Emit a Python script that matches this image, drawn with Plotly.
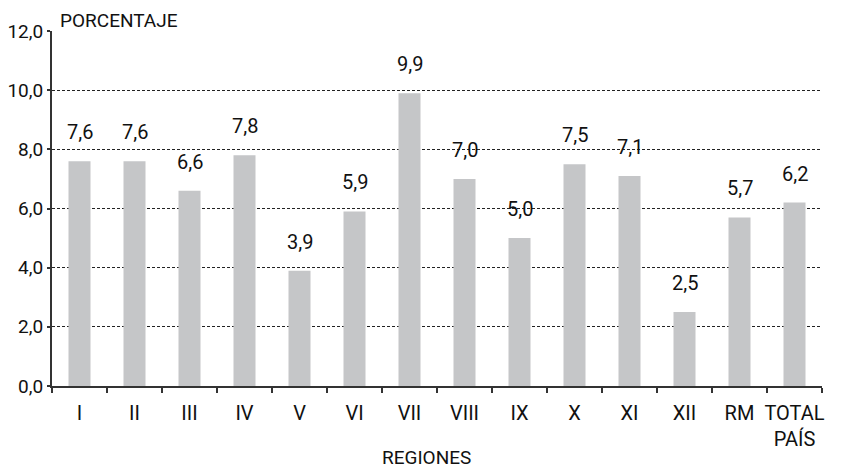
import plotly.graph_objects as go

categories = ["I", "II", "III", "IV", "V", "VI", "VII", "VIII", "IX", "X", "XI", "XII", "RM", "TOTAL<br>PAÍS"]
values = [7.6, 7.6, 6.6, 7.8, 3.9, 5.9, 9.9, 7.0, 5.0, 7.5, 7.1, 2.5, 5.7, 6.2]
y_ticks = [0, 2, 4, 6, 8, 10, 12]
y_ticklabels = ["0,0", "2,0", "4,0", "6,0", "8,0", "10,0", "12,0"]
y_title = "PORCENTAJE"
x_title = "REGIONES"

FONT = "Roboto, sans-serif"

fig = go.Figure()
fig.add_trace(go.Bar(
    x=categories, y=values,
    marker=dict(color="#c5c6c8", line=dict(width=0)),
    width=0.4,
    hoverinfo="skip",
))

for c, v in zip(categories, values):
    fig.add_annotation(
        x=c, y=v, xref="x", yref="y",
        text=f"{v:.1f}".replace(".", ","),
        showarrow=False, yanchor="bottom", xanchor="center",
        yshift=15, font=dict(family=FONT, size=20, color="#111"),
    )

fig.add_annotation(
    x=0.008, y=1, xref="paper", yref="paper", xanchor="left", yanchor="bottom",
    text=y_title, showarrow=False, yshift=-3,
    font=dict(family=FONT, size=19, color="#111"),
)
fig.add_annotation(
    x=0.486, y=0, xref="paper", yref="paper", xanchor="center", yanchor="middle",
    text=x_title, showarrow=False, yshift=-71,
    font=dict(family=FONT, size=19, color="#111"),
)

# page body has an 8px default margin, so the figure is sized to fit the 841x469 window
fig.update_layout(
    width=833, height=461,
    margin=dict(l=44, r=19, t=23, b=83, autoexpand=False),
    paper_bgcolor="white", plot_bgcolor="white",
    showlegend=False,
    font=dict(family=FONT, size=20, color="#111"),
    bargap=0.6,
)
fig.update_xaxes(
    type="category", automargin=False, tickangle=0,
    showline=True, linecolor="#333", linewidth=2,
    ticks="outside", tickson="boundaries", ticklen=5, tickwidth=2, tickcolor="#333",
    ticklabelstandoff=8,
    showgrid=False,
    tickfont=dict(family=FONT, size=20, color="#111"),
    range=[-0.5, 13.5],
)
fig.update_yaxes(
    range=[0, 12], automargin=False,
    tickvals=y_ticks, ticktext=y_ticklabels,
    showline=True, linecolor="#333", linewidth=2,
    ticks="outside", ticklen=3, tickwidth=2, tickcolor="#333",
    showgrid=True, gridcolor="#222", gridwidth=1, griddash="3px,2px",
    zeroline=False,
    tickfont=dict(family=FONT, size=19, color="#111"),
)

fig.write_html("out.html")
